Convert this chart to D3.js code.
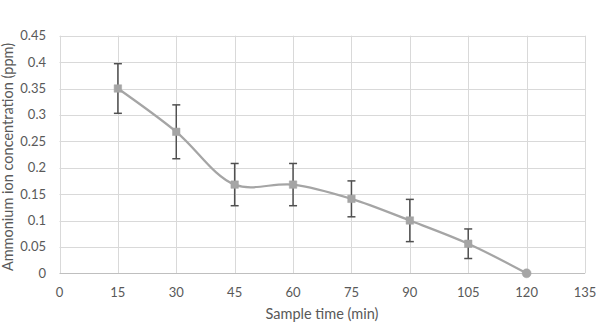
<!DOCTYPE html>
<html><head><meta charset="utf-8">
<script src="https://cdn.jsdelivr.net/npm/d3@7"></script>
<style>body{margin:0;background:#fff}svg{display:block}text{font-family:Lato,"Open Sans",sans-serif;fill:#595959}</style>
</head><body><svg id="c" width="596" height="323"></svg>
<script>
const times = [15, 30, 45, 60, 75, 90, 105, 120];
const concentration = [0.35, 0.268, 0.168, 0.168, 0.141, 0.100, 0.056, 0.0];
const errors = [0.047, 0.051, 0.040, 0.040, 0.034, 0.040, 0.028, 0];
const xTicks = [0, 15, 30, 45, 60, 75, 90, 105, 120, 135];
const yTicks = [0, 0.05, 0.1, 0.15, 0.2, 0.25, 0.3, 0.35, 0.4, 0.45];
const xTitle = "Sample time (min)";
const yTitle = "Ammonium ion concentration (ppm)";

const svg = d3.select("#c");
const x = d3.scaleLinear().domain([0,135]).range([59.5,585]);
const y = d3.scaleLinear().domain([0,0.45]).range([273.3,35.7]);

// grid
svg.append("g").selectAll("line").data(yTicks.slice(1)).join("line")
  .attr("x1",x(0)).attr("x2",x(135)).attr("y1",d=>Math.round(y(d))+0.5).attr("y2",d=>Math.round(y(d))+0.5)
  .attr("stroke","#d9d9d9").attr("stroke-width",1);
svg.append("g").selectAll("line").data(xTicks).join("line")
  .attr("y1",y(0)).attr("y2",y(0.45)).attr("x1",d=>Math.round(x(d))+0.5).attr("x2",d=>Math.round(x(d))+0.5)
  .attr("stroke","#d9d9d9").attr("stroke-width",1);
// x axis line
svg.append("line").attr("x1",x(0)).attr("x2",x(135)).attr("y1",Math.round(y(0))+0.5).attr("y2",Math.round(y(0))+0.5)
  .attr("stroke","#bfbfbf").attr("stroke-width",1);

// tick labels
svg.append("g").selectAll("text").data(yTicks).join("text")
  .attr("x",46).attr("y",d=>y(d)).attr("dy","0.35em").attr("text-anchor","end")
  .attr("font-size",13).text(d=>d3.format("~g")(d));
svg.append("g").selectAll("text").data(xTicks).join("text")
  .attr("x",d=>x(d)).attr("y",292.5).attr("dy","0.35em").attr("text-anchor","middle")
  .attr("font-size",13).text(d=>d);

// titles
svg.append("text").attr("x",322).attr("y",319).attr("text-anchor","middle")
  .attr("font-size",14.5).text(xTitle);
svg.append("text").attr("transform","translate(13,157) rotate(-90)").attr("text-anchor","middle")
  .attr("font-size",14.5).text(yTitle);

const data = times.map((t,i)=>({t, v:concentration[i], e:errors[i]}));

// line
svg.append("path").datum(data)
  .attr("d", d3.line().x(d=>x(d.t)).y(d=>y(d.v)).curve(d3.curveCatmullRom.alpha(0.5)))
  .attr("fill","none").attr("stroke","#a5a5a5").attr("stroke-width",2.25);

// error bars
const eb = svg.append("g").attr("stroke","#505050").attr("stroke-width",1.5);
data.filter(d=>d.e>0).forEach(d=>{
  const cx = x(d.t);
  eb.append("line").attr("x1",cx).attr("x2",cx).attr("y1",y(d.v+d.e)).attr("y2",y(d.v-d.e));
  eb.append("line").attr("x1",cx-4).attr("x2",cx+4).attr("y1",y(d.v+d.e)).attr("y2",y(d.v+d.e));
  eb.append("line").attr("x1",cx-4).attr("x2",cx+4).attr("y1",y(d.v-d.e)).attr("y2",y(d.v-d.e));
});

// markers
svg.append("g").selectAll("path").data(data).join("path")
  .attr("transform",d=>`translate(${x(d.t)},${y(d.v)})`)
  .attr("d",d=> d.e>0 ? "M-3.75,-3.75h7.5v7.5h-7.5z" : d3.symbol(d3.symbolCircle, 64)())
  .attr("fill","#a5a5a5").attr("stroke","#a5a5a5").attr("stroke-width",0.5);
</script></body></html>
